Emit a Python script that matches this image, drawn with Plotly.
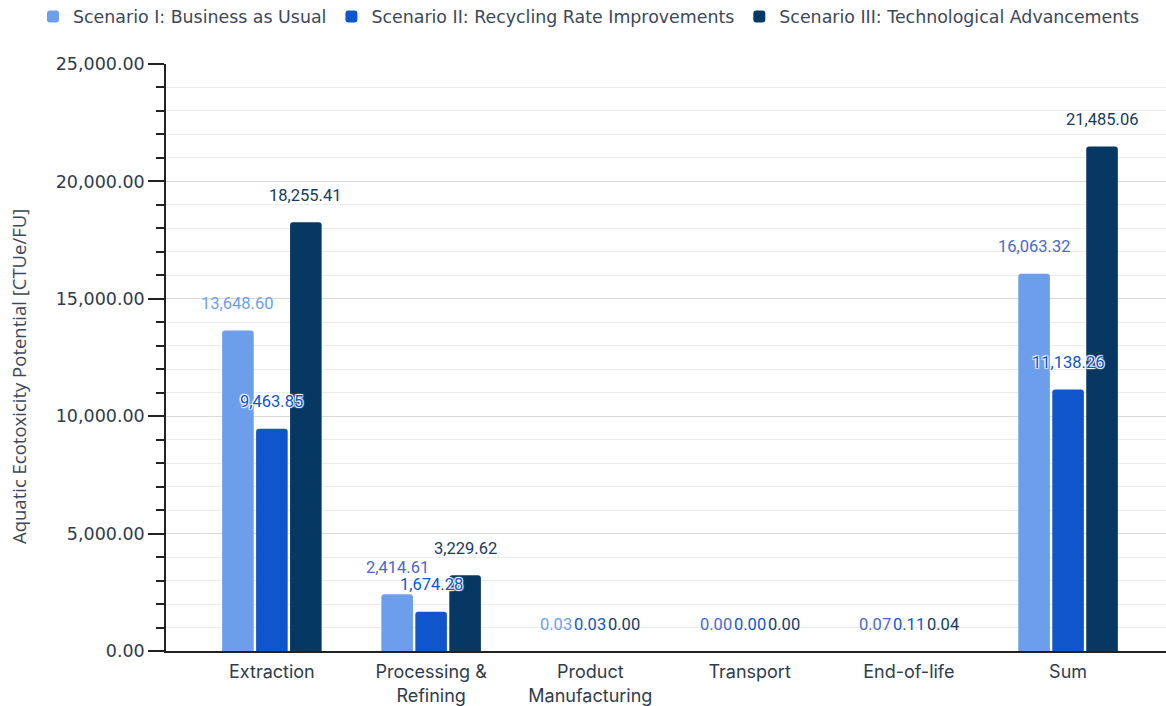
import plotly.graph_objects as go

categories = ["Extraction", "Processing &<br>Refining", "Product<br>Manufacturing",
              "Transport", "End-of-life", "Sum"]

series_names = [
    "Scenario I: Business as Usual",
    "Scenario II: Recycling Rate Improvements",
    "Scenario III: Technological Advancements",
]

business_as_usual = [13648.60, 2414.61, 0.03, 0.00, 0.07, 16063.32]
recycling_improvements = [9463.85, 1674.28, 0.03, 0.00, 0.11, 11138.26]
tech_advancements = [18255.41, 3229.62, 0.00, 0.00, 0.04, 21485.06]

bar_colors = ["#6d9eeb", "#1155cc", "#073763"]
label_colors = [
    ["#6d9eeb", "#4a69c6", "#6d9eeb", "#4a69c6", "#4a69c6", "#4a69c6"],
    ["#1155cc"] * 6,
    ["#163b62"] * 6,
]
halo = "1px 1px 1px #fff, -1px -1px 1px #fff, 1px -1px 1px #fff, -1px 1px 1px #fff"
label_shadows = ["none", halo, "none"]

all_values = [business_as_usual, recycling_improvements, tech_advancements]

# Layout geometry
W, H = 1166, 706
M_L, M_R, M_T, M_B = 166, 0, 64, 55
X_RANGE = [-0.665, 5.615]
BARGAP = 0.36
BARGROUPGAP = 0.07

plot_w = W - M_L - M_R
plot_h = H - M_T - M_B
cat_px = plot_w / (X_RANGE[1] - X_RANGE[0])
slot_px = cat_px * (1 - BARGAP) / len(all_values)

fig = go.Figure()

for name, values, color in zip(series_names, all_values, bar_colors):
    fig.add_trace(go.Bar(
        name=name,
        x=categories,
        y=values,
        marker=dict(color=color, line=dict(width=0), cornerradius=3),
        hovertemplate="%{y:,.2f}<extra>" + name + "</extra>",
    ))

# Value labels above each bar, drawn on top of all bars
annotations = []
for k, (values, colors, shadow) in enumerate(zip(all_values, label_colors, label_shadows)):
    offset = (k - (len(all_values) - 1) / 2) * slot_px
    for cat, v, c in zip(categories, values, colors):
        annotations.append(dict(
            x=cat, y=v, xref="x", yref="y",
            text=f"{v:,.2f}",
            showarrow=False,
            xshift=offset, yshift=27,
            xanchor="center", yanchor="middle",
            font=dict(family="Roboto", size=16.5, color=c, shadow=shadow),
        ))

# Vertical axis title
annotations.append(dict(
    text="Aquatic Ecotoxicity Potential [CTUe/FU]",
    xref="paper", yref="paper",
    x=(18 - M_L) / plot_w, y=(H - M_B - 377) / plot_h,
    xanchor="center", yanchor="middle",
    textangle=-90, showarrow=False,
    font=dict(family="Open Sans", size=18.5, color="#3c4858"),
))

fig.update_layout(
    width=W,
    height=H,
    margin=dict(l=M_L, r=M_R, t=M_T, b=M_B, autoexpand=False),
    paper_bgcolor="white",
    plot_bgcolor="white",
    barmode="group",
    bargap=BARGAP,
    bargroupgap=BARGROUPGAP,
    annotations=annotations,
    legend=dict(
        orientation="h",
        xref="paper", yref="paper",
        x=-0.133, y=1.050, xanchor="left", yanchor="bottom",
        font=dict(family="DejaVu Sans", size=17.4, color="#3c4858"),
        itemclick=False,
    ),
    xaxis=dict(
        type="category",
        range=X_RANGE,
        showline=True, linecolor="#222222", linewidth=1.5,
        showgrid=False,
        ticks="",
        ticklabelstandoff=4,
        tickfont=dict(family="Inter", size=18, color="#2f3b4c"),
    ),
    yaxis=dict(
        range=[0, 25000],
        dtick=5000,
        tickformat=",.2f",
        showline=True, linecolor="#222222", linewidth=1.5,
        ticks="outside", ticklen=16, tickcolor="#222222", tickwidth=1.5,
        showgrid=True, gridcolor="#d9d9d9", gridwidth=1,
        zeroline=False,
        tickfont=dict(family="DejaVu Sans", size=17.5, color="#2f3b4c"),
        minor=dict(dtick=1000, ticks="outside", ticklen=8, tickcolor="#222222",
                   showgrid=True, gridcolor="#ececec", gridwidth=1),
    ),
)

fig.write_html("out.html")
